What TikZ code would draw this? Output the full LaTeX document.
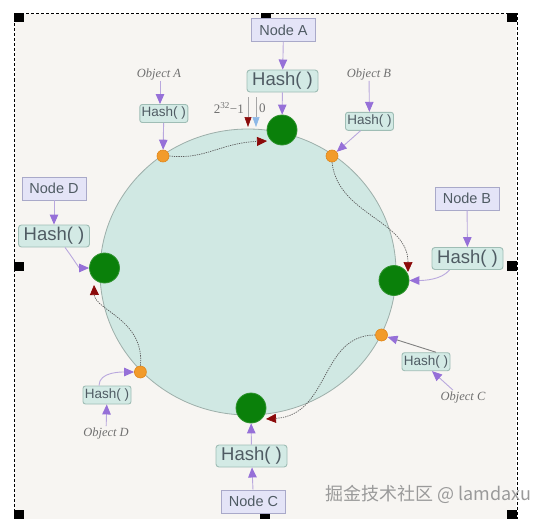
\documentclass[tikz,border=0pt]{standalone}
\usepackage{fontspec}
\setmainfont{Liberation Serif}
\setsansfont{Liberation Sans}
\newfontfamily\cjk{Noto Sans CJK SC}
\usetikzlibrary{arrows.meta}
\definecolor{bgc}{HTML}{F7F5F2}
\definecolor{nodefill}{HTML}{E4E4F7}
\definecolor{nodeedge}{HTML}{A9A9C9}
\definecolor{hashfill}{HTML}{D3EAE5}
\definecolor{hashedge}{HTML}{9FBDB5}
\definecolor{txt}{HTML}{4F5B63}
\definecolor{plight}{HTML}{B9A8DE}
\definecolor{ptip}{HTML}{9670D8}
\definecolor{objtxt}{HTML}{707070}
\definecolor{ringfill}{HTML}{D0E8E3}
\definecolor{ringedge}{HTML}{9DAFAA}
\definecolor{srv}{HTML}{0A800A}
\definecolor{keyfill}{HTML}{F29B2B}
\definecolor{keyedge}{HTML}{E0861A}
\definecolor{tipred}{HTML}{8B0A0A}
\definecolor{tipblue}{HTML}{8DB8E6}
\definecolor{dotcol}{HTML}{5E5E5E}
\definecolor{wmc}{HTML}{9A9A9A}
\tikzset{
  nodebox/.style={draw=nodeedge, fill=nodefill, line width=0.9pt, text=txt,
    font=\sffamily\fontsize{14.5pt}{16pt}\selectfont, minimum width=64pt, minimum height=23pt, inner sep=0pt},
  hashbig/.style={draw=hashedge, fill=hashfill, line width=0.9pt, rounded corners=3pt, text=txt,
    font=\sffamily\fontsize{18.5pt}{20pt}\selectfont, minimum width=71pt, minimum height=22pt, inner sep=0pt},
  hashsmall/.style={draw=hashedge, fill=hashfill, line width=0.9pt, rounded corners=2.5pt, text=txt,
    font=\sffamily\fontsize{13.5pt}{15pt}\selectfont, minimum width=48pt, minimum height=18pt, inner sep=0pt},
  objlabel/.style={text=objtxt, font=\itshape\fontsize{12.5pt}{14pt}\selectfont, inner sep=1pt},
  server/.style={circle, fill=srv, draw=srv!85!white, line width=0.8pt, minimum size=30pt, inner sep=0pt},
  keydot/.style={circle, fill=keyfill, draw=keyedge, line width=0.6pt, minimum size=12pt, inner sep=0pt},
  parrow/.style={draw=plight, line width=0.9pt, -{Triangle[length=10pt,width=8.5pt,color=ptip,fill=ptip]}},
  ringpath/.style={draw=dotcol, line width=0.7pt, dash pattern=on 1.3pt off 1pt,
    -{Triangle[length=10pt,width=9pt,color=tipred,fill=tipred]}},
  handle/.style={fill=black, draw=none}
}
\begin{document}
\begin{tikzpicture}[x=1pt,y=-1pt]
\useasboundingbox (0,0) rectangle (546,519);
% background and selection frame
\fill[white] (0,0) rectangle (546,519);
\fill[bgc] (15,14) rectangle (516,521);
\draw[black, line width=0.9pt, dash pattern=on 3pt off 2pt] (14.5,13.5) rectangle (517,523);
\fill[handle] (14,13) rectangle (24,22);
\fill[handle] (261,13) rectangle (271,22);
\fill[handle] (507,13) rectangle (517,22);
\fill[handle] (14,262) rectangle (24,271);
\fill[handle] (507,261) rectangle (517,271);
\fill[handle] (14,510) rectangle (24,519);
\fill[handle] (260,512) rectangle (270,519);
\fill[handle] (507,510) rectangle (517,519);

% hash ring
\draw[fill=ringfill, draw=ringedge, line width=0.8pt] (248,272) ellipse [x radius=148pt, y radius=143pt];

% servers
\node[nodebox] (nodeA) at (283.5,30) {Node A};
\node[hashbig] (hashA) at (282.5,81) {Hash( )};
\node[server] (srvA) at (282,130) {};
\node[nodebox] (nodeB) at (467,198.5) {Node B};
\node[hashbig] (hashB) at (467.5,258.5) {Hash( )};
\node[server] (srvB) at (394,280.5) {};
\node[nodebox] (nodeC) at (253.5,501.5) {Node C};
\node[hashbig] (hashC) at (251.5,456) {Hash( )};
\node[server] (srvC) at (251,408) {};
\node[nodebox] (nodeD) at (54,188.5) {Node D};
\node[hashbig] (hashD) at (54,236) {Hash( )};
\node[server] (srvD) at (104.5,268) {};

% objects
\node[objlabel] (objA) at (159,74) {Object A};
\node[hashsmall] (hashOA) at (163.8,113.5) {Hash( )};
\node[keydot] (keyA) at (163,156) {};
\node[objlabel] (objB) at (369,74) {Object B};
\node[hashsmall] (hashOB) at (369.5,121.3) {Hash( )};
\node[keydot] (keyB) at (332,156) {};
\node[objlabel] (objC) at (463,397) {Object C};
\node[hashsmall] (hashOC) at (426,361.7) {Hash( )};
\node[keydot] (keyC) at (381.5,335) {};
\node[objlabel] (objD) at (106,433) {Object D};
\node[hashsmall] (hashOD) at (107,395) {Hash( )};
\node[keydot] (keyD) at (140.4,372) {};

% server arrows
\draw[parrow] (nodeA) -- (hashA);
\draw[parrow] (hashA) -- (srvA);
\draw[parrow] (nodeB) -- (hashB);
\draw[parrow] ([xshift=-18pt]hashB.south) .. controls +(-8,10) and +(14,0) .. (srvB.east);
\draw[parrow] (nodeC) -- (hashC);
\draw[parrow] (hashC) -- (srvC);
\draw[parrow] (nodeD) -- (hashD);
\draw[parrow] ([xshift=11pt]hashD.south) .. controls +(6,8) and +(-10,0) .. (srvD.west);

% object arrows
\draw[parrow] (objA.south -| 160,0) -- (160,0 |- hashOA.north);
\draw[parrow] (hashOA) -- (keyA);
\draw[parrow] (objB) -- (hashOB);
\draw[parrow] ([xshift=-9pt]hashOB.south) -- (keyB);
\draw[parrow] ([xshift=-10pt]objC.north) -- ([xshift=6pt]hashOC.south);
\draw[parrow, draw=gray] ([xshift=10pt]hashOC.north) -- (keyC);
\draw[parrow] (objD) -- (hashOD);
\draw[parrow] ([xshift=-8pt]hashOD.north) .. controls +(0,-14) and +(-12,0) .. (keyD.west);

% ring walk to next server
\coordinate (tipA) at (267,141);
\coordinate (tipB) at (408,272);
\coordinate (tipC) at (266,419);
\coordinate (tipD) at (94,285);
\draw[ringpath] (keyA.east) .. controls (205,160) and (220,143) .. (tipA);
\draw[ringpath] (keyB.south) .. controls (338,215) and (408,220) .. (tipB);
\draw[ringpath] (keyC.west) .. controls (320,335) and (330,415) .. (tipC);
\draw[ringpath] (keyD.north) .. controls (145,320) and (95,310) .. (tipD);

% ring start/end markers
\node[anchor=east, text=objtxt, font=\fontsize{13pt}{14pt}\selectfont, inner sep=0pt] (maxlbl) at (244,108) {2\textsuperscript{32}−1};
\node[anchor=west, text=objtxt, font=\fontsize{13pt}{14pt}\selectfont, inner sep=0pt] (zerolbl) at (259,108) {0};
\coordinate (mTopR) at (248,97);
\coordinate (mEndR) at (248,127);
\coordinate (mTopB) at (256,97);
\coordinate (mEndB) at (256,127);
\draw[draw=gray!70, line width=0.6pt, -{Triangle[length=10pt,width=7pt,color=tipred,fill=tipred]}] (mTopR) -- (mEndR);
\draw[draw=gray!70, line width=0.6pt, -{Triangle[length=10pt,width=7pt,color=tipblue,fill=tipblue]}] (mTopB) -- (mEndB);

% watermark
\node[anchor=base west, text=wmc, font=\cjk\fontsize{18pt}{20pt}\selectfont, inner sep=0pt] (wm) at (325,500) {掘金技术社区 @ lamdaxu};
\end{tikzpicture}
\end{document}
